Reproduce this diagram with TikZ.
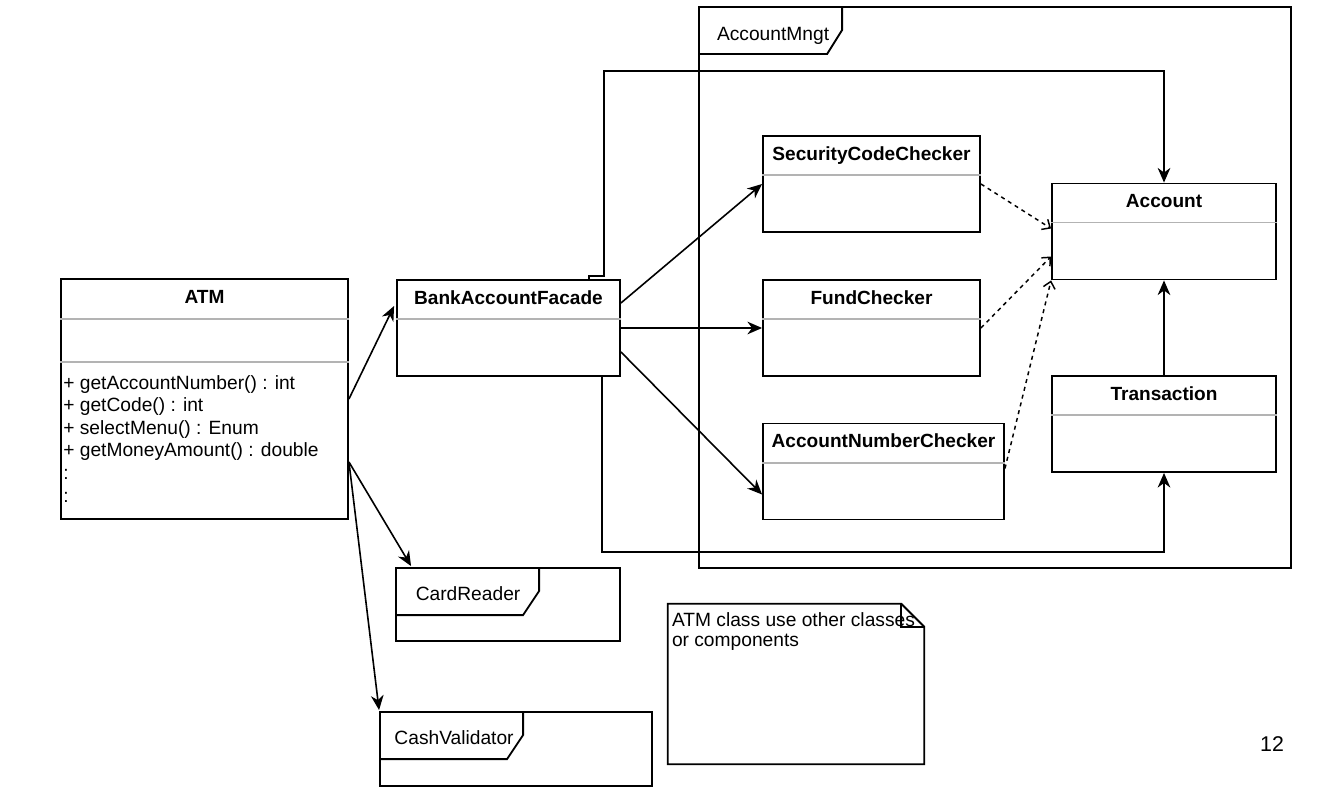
\documentclass[tikz,border=0pt]{standalone}
\usepackage{fontspec}
\setmainfont{Liberation Sans}
\usetikzlibrary{arrows.meta, calc}
\definecolor{sepgray}{RGB}{179,179,179}

\begin{document}
\begin{tikzpicture}[x=0.75pt, y=-0.75pt,
  umlclass/.style={draw, line width=1.4pt, fill=white, minimum width=162.75pt,
                   minimum height=72pt, inner sep=0pt},
  ctitle/.style={anchor=base, yshift=-18.75pt, inner sep=0pt,
                 font=\fontsize{14.3}{17}\selectfont\bfseries},
  sepline/.style={draw=sepgray, line width=1.4pt},
  pkgframe/.style={draw, line width=1.4pt, inner sep=0pt},
  tabline/.style={line width=1.4pt},
  ftitle/.style={anchor=base, inner sep=0pt, font=\fontsize{14.4}{17}\selectfont},
  assoc/.style={-{Stealth[length=11pt, width=9.5pt, inset=3.5pt]}, line width=1.2pt},
  depend/.style={-{Straight Barb[length=5pt, width=9pt]}, line width=1.1pt,
                 dash pattern=on 3pt off 3pt}
]
  \useasboundingbox (0,0) rectangle (1330,802);

  %% Package frame
  \node[pkgframe, minimum width=444pt, minimum height=420.75pt] (mngt) at (995,287.5) {};
  \draw[tabline] ($(mngt.north west)+(0,48)$) -- ++(129,0) -- ++(15,-24) -- ++(0,-24);
  \node[ftitle] (mngt-t) at ($(mngt.north west)+(75,34)$) {AccountMngt};

  %% Classes
  \node[umlclass, minimum width=215.25pt, minimum height=180pt,
        label={[ctitle, name=atm-t]north:ATM}] (atm) at (204.5,399) {};
  \draw[sepline] ($(atm.north west)+(0,41)$) -- ($(atm.north east)+(0,41)$);
  \draw[sepline] ($(atm.north west)+(0,84)$) -- ($(atm.north east)+(0,84)$);
  % base of a multi-line node is its last line
  \node[anchor=base west, align=left, inner sep=0pt,
        font=\fontsize{14.4}{16.95}\selectfont] (atm-ops) at ($(atm.north west)+(3,224)$)
    {+ getAccountNumber() : int\\+ getCode() : int\\+ selectMenu() : Enum\\
     + getMoneyAmount() : double\\:\\:};

  \node[umlclass, minimum width=167.25pt,
        label={[ctitle, name=baf-t]north:BankAccountFacade}] (baf) at (508.5,328) {};
  \node[umlclass, label={[ctitle, name=scc-t]north:SecurityCodeChecker}] (scc) at (871.5,184) {};
  \node[umlclass, label={[ctitle, name=fc-t]north:FundChecker}] (fc) at (871.5,328) {};
  \node[umlclass, minimum width=180.75pt,
        label={[ctitle, name=anc-t]north:AccountNumberChecker}] (anc) at (883.5,471.5) {};
  \node[umlclass, minimum width=168pt,
        label={[ctitle, name=acc-t]north:Account}] (acc) at (1164,231.5) {};
  \node[umlclass, minimum width=168pt,
        label={[ctitle, name=trans-t]north:Transaction}] (trans) at (1164,424) {};
  \foreach \c in {baf, scc, fc, anc, acc, trans}
    \draw[sepline] ($(\c.north west)+(0,40)$) -- ($(\c.north east)+(0,40)$);

  %% Components
  \node[pkgframe, minimum width=168pt, minimum height=54.75pt] (card) at (508,604.5) {};
  \draw[tabline] ($(card.north west)+(0,48)$) -- ++(128,0) -- ++(16,-24) -- ++(0,-24);
  \node[ftitle] (card-t) at ($(card.north west)+(73,33)$) {CardReader};

  \node[pkgframe, minimum width=204pt, minimum height=55.5pt] (cash) at (516,749) {};
  \draw[tabline] ($(cash.north west)+(0,48)$) -- ++(128,0) -- ++(16,-24) -- ++(0,-24);
  \node[ftitle] (cash-t) at ($(cash.north west)+(75,33.5)$) {CashValidator};

  %% Note
  \node[minimum width=192pt, minimum height=120pt, inner sep=0pt] (note) at (796,684) {};
  \draw[tabline] (note.north west) -- ($(note.north east)+(-23,0)$) -- ($(note.north east)+(0,23)$)
    -- (note.south east) -- (note.south west) -- cycle;
  \draw[tabline] ($(note.north east)+(-23,0)$) |- ($(note.north east)+(0,23)$);
  \node[anchor=base west, align=left, inner sep=0pt,
        font=\fontsize{14.4}{15}\selectfont] (note-t) at ($(note.north west)+(4,43)$)
    {ATM class use other classes\\or components};

  \node[anchor=base, inner sep=0pt, font=\fontsize{16}{19}\selectfont] (pagenum) at (1272,751.5) {12};

  %% ATM uses
  \draw[assoc] (atm.east) -- ($(baf.west)+(-2,-22)$);
  \draw[assoc] ($(atm.east)+(0,63)$) -- ($(card.north west)+(16,-1)$);
  \draw[assoc] ($(atm.east)+(0,63)$) -- ($(cash.north west)+(0,-1)$);

  %% Facade to checkers
  \draw[assoc] ($(baf.east)+(0,-25)$) -- (scc.west);
  \draw[assoc] (baf.east) -- (fc.west);
  \draw[assoc] ($(baf.east)+(0,24)$) -- ($(anc.west)+(0,23)$);

  %% Facade to account and transaction
  \draw[assoc] ($(baf.north east)+(-32,0)$) -- ++(0,-3) -- ++(15,0) -- ++(0,-205) -| (acc.north);
  \draw[assoc] ($(baf.south east)+(-19,0)$) -- ++(0,175) -| (trans.south);
  \draw[assoc] (trans.north) -- (acc.south);

  %% Checkers depend on account
  \draw[depend] (scc.east) -- ($(acc.west)+(0,-3)$);
  \draw[depend] (fc.east) -- ($(acc.west)+(0,25)$);
  \draw[depend] ($(anc.east)+(0,-3)$) -- (acc.south west);
\end{tikzpicture}
\end{document}
